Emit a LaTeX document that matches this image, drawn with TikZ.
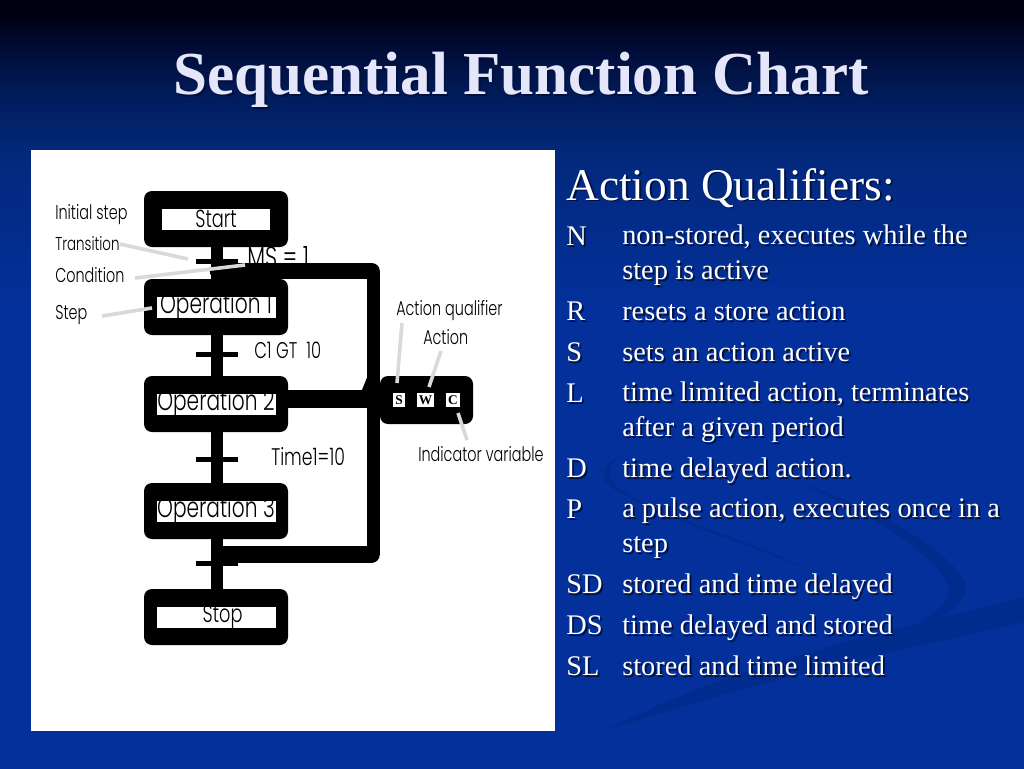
\documentclass[tikz,border=0pt]{standalone}
\usepackage{fontspec}
\setmainfont{Liberation Serif}
\newfontfamily\chartfont[FakeStretch=0.72]{Poppins Light}
\usepackage{tikz}
\usetikzlibrary{positioning}
\definecolor{bgTop}{HTML}{000010}
\definecolor{bgA}{HTML}{010C38}
\definecolor{bgB}{HTML}{011D5E}
\definecolor{bgC}{HTML}{03297C}
\definecolor{bgD}{HTML}{03309A}
\definecolor{swoosh}{HTML}{022B8E}
\definecolor{titleink}{HTML}{E6E6FA}
\definecolor{shadowink}{HTML}{00103F}
\definecolor{pointerink}{HTML}{D9D9D9}
\pgfdeclareverticalshading{slideshade}{100bp}{
    color(0bp)=(bgD);
    color(25bp)=(bgD);
    color(55bp)=(bgD);
    color(65bp)=(bgC);
    color(68.5bp)=(bgB);
    color(71.7bp)=(bgA);
    color(74bp)=(bgTop);
    color(100bp)=(bgTop)
}
\newcommand{\shadowed}[1]{\leavevmode\rlap{\kern1.4pt\raisebox{-1.4pt}{\textcolor{shadowink}{#1}}}#1}
\tikzset{
    stepbox/.style = {
        rectangle,
        rounded corners=6pt,
        fill=black,
        minimum width=108pt,
        minimum height=42pt,
        inner sep=0pt,
        outer sep=0pt,
        font=\chartfont\fontsize{21}{22}\selectfont,
        path picture={
            \fill[white, sharp corners] (path picture bounding box.center) ++(-#1,-10.5) rectangle ++(2*#1,21);
        },
    },
    stepbox/.default = 59.5,
    endbox/.style = {
        stepbox=#1,
        font=\chartfont\fontsize{18.5}{20}\selectfont,
    },
    actionbox/.style = {
        rectangle,
        rounded corners=6pt,
        fill=black,
        minimum width=69.75pt,
        minimum height=36pt,
        inner sep=0pt,
        outer sep=0pt,
    },
    tagbox/.style = {
        rectangle,
        fill=white,
        minimum height=10.5pt,
        inner sep=0pt,
        font=\bfseries\fontsize{10}{10}\selectfont,
    },
    chartlabel/.style = {
        anchor=west,
        inner sep=0pt,
        font=\chartfont\fontsize{15}{17}\selectfont,
    },
    keytext/.style = {
        anchor=base west,
        inner sep=0pt,
        text=white,
        font=\fontsize{21.3}{25.9}\selectfont,
    },
    desctext/.style = {
        keytext,
        align=left,
    },
    wire/.style = {
        draw=black,
        line width=9pt,
    },
    trans/.style = {
        draw=black,
        line width=3.75pt,
    },
    loopwire/.style = {
        draw=black,
        line width=12.5pt,
        line cap=round,
    },
    pointer/.style = {
        draw=pointerink,
        line width=2.7pt,
    },
}

\begin{document}
\begin{tikzpicture}[x=0.75pt,y=-0.75pt]
        \useasboundingbox (0,0) rectangle (1024,768);
        \shade[shading=slideshade] (0,0) rectangle (1024,768);
        % background ribbons
        \fill[swoosh] (1024,597) .. controls (900,630) and (740,660) .. (607,730)
            .. controls (760,680) and (900,650) .. (1024,622) -- cycle;
        \fill[swoosh] (800,483) .. controls (880,510) and (950,550) .. (965,583)
            .. controls (970,605) and (940,620) .. (905,630)
            .. controls (945,610) and (955,595) .. (945,580)
            .. controls (925,545) and (860,510) .. (800,483) -- cycle;
        \fill[swoosh] (640,447) .. controls (600,460) and (590,480) .. (625,495)
            .. controls (680,525) and (750,545) .. (810,570)
            .. controls (740,535) and (650,515) .. (615,485)
            .. controls (600,470) and (615,455) .. (640,447) -- cycle;
        \fill[white] (31,150) rectangle (555,731);

        \node(title) [anchor=base, text=titleink, inner sep=0pt,
            font=\bfseries\fontsize{45.8}{50}\selectfont] at (521,94.5)
        {\shadowed{Sequential Function Chart}};

        \node(start) [endbox=54] at (216,219)
        {Start};
        \node(opOne) [stepbox, below = 24pt of start]
        {Operation 1};
        \node(opTwo) [stepbox, below = 30.75pt of opOne]
        {Operation 2};
        \node(opThree) [stepbox, below = 38.25pt of opTwo]
        {Operation 3};
        \node(stop) [endbox=59.5, below = 37.5pt of opThree]
        {\hspace*{10pt}Stop};

        \node(action) [actionbox] at (426.5,400) {};
        \node(tagS) [tagbox, minimum width=9pt] at (399,400) {S};
        \node(tagW) [tagbox, minimum width=12.75pt] at (425.5,400) {W};
        \node(tagC) [tagbox, minimum width=10.5pt] at (453,400) {C};

        \node(lblMS) [chartlabel, font=\chartfont\fontsize{22}{24}\selectfont] at (247,257) {MS = 1};

        \coordinate (loopTop) at (218,271);
        \coordinate (loopTopEnd) at (371.5,271);
        \coordinate (loopBot) at (224,554.5);
        \coordinate (loopBotEnd) at (371.5,554.5);
        \coordinate (loopUp) at (373.5,271);
        \coordinate (loopDown) at (373.5,554.5);
        \coordinate (opTwoJoin) at (373.5,399);

        \draw [wire, transform canvas={xshift=1pt}] (start) -- (opOne);
        \draw [wire, transform canvas={xshift=1pt}] (opOne) -- (opTwo);
        \draw [wire, transform canvas={xshift=1pt}] (opTwo) -- (opThree);
        \draw [wire, transform canvas={xshift=1pt}] (opThree) -- (stop);

        \draw [loopwire] (loopTop) -- (loopTopEnd);
        \draw [loopwire] (loopBot) -- (loopBotEnd);
        \draw [wire, line width=9.75pt] (loopUp) -- (loopDown);
        \draw [wire, line width=13.5pt] (opTwo.east |- opTwoJoin) -- (opTwoJoin);
        \fill (362,390) -- (368,375) -- (368,390) -- cycle;

        \coordinate (barA) at (217,261.5);
        \coordinate (barB) at (217,354.5);
        \coordinate (barC) at (217,459.5);
        \coordinate (barD) at (217,563.5);
        \draw [trans] (196,261.5) -- (barA) -- (238,261.5);
        \draw [trans] (196,354.5) -- (barB) -- (238,354.5);
        \draw [trans] (196,459.5) -- (barC) -- (238,459.5);
        \draw [trans] (196,563.5) -- (barD) -- (238,563.5);

        \node(lblInitial) [chartlabel] at (55,215) {Initial step};
        \node(lblTrans) [chartlabel, font=\chartfont\fontsize{14}{16}\selectfont] at (55,244) {Transition};
        \node(lblCond) [chartlabel] at (55,275) {Condition};
        \node(lblStep) [chartlabel] at (55,315) {Step};
        \node(lblGT) [chartlabel, font=\chartfont\fontsize{17}{19}\selectfont] at (254,350) {C1 GT\ \ 10};
        \node(lblTime) [chartlabel, font=\chartfont\fontsize{18}{20}\selectfont] at (271,457) {Time1=10};
        \node(lblQual) [chartlabel] at (396,311) {Action qualifier};
        \node(lblAct) [chartlabel] at (423,337) {Action};
        \node(lblInd) [chartlabel] at (418,454) {Indicator variable};

        \coordinate (tipTrans) at (188,259);
        \coordinate (tipCond) at (245,265);
        \coordinate (tipStep) at (152,308);
        \coordinate (tipQual) at (397,383);
        \coordinate (tipAct) at (429,387);
        \coordinate (tipInd) at (458,413);
        \draw [pointer] (lblTrans.east) -- (tipTrans);
        \draw [pointer] (135,278) -- (tipCond);
        \draw [pointer] (102,316) -- (tipStep);
        \draw [pointer] (402,323) -- (tipQual);
        \draw [pointer] (441,351) -- (tipAct);
        \draw [pointer] (467,440) -- (tipInd);

        \node(heading) [keytext, font=\fontsize{34}{38}\selectfont] at (566,200)
        {\shadowed{Action Qualifiers:}};
        \node(keyN) [keytext] at (566,245.5) {\shadowed{N}};
        \node(descN) [desctext] at (622,279.5) {\shadowed{non-stored, executes while the}\\\shadowed{step is active}};
        \node(keyR) [keytext] at (566,320.5) {\shadowed{R}};
        \node(descR) [desctext] at (622,320.5) {\shadowed{resets a store action}};
        \node(keyS) [keytext] at (566,361.5) {\shadowed{S}};
        \node(descS) [desctext] at (622,361.5) {\shadowed{sets an action active}};
        \node(keyL) [keytext] at (566,402.5) {\shadowed{L}};
        \node(descL) [desctext] at (622,436.5) {\shadowed{time limited action, terminates}\\\shadowed{after a given period}};
        \node(keyD) [keytext] at (566,477.5) {\shadowed{D}};
        \node(descD) [desctext] at (622,477.5) {\shadowed{time delayed action.}};
        \node(keyP) [keytext] at (566,518.5) {\shadowed{P}};
        \node(descP) [desctext] at (622,552.5) {\shadowed{a pulse action, executes once in a}\\\shadowed{step}};
        \node(keySD) [keytext] at (566,593.5) {\shadowed{SD}};
        \node(descSD) [desctext] at (622,593.5) {\shadowed{stored and time delayed}};
        \node(keyDS) [keytext] at (566,634.5) {\shadowed{DS}};
        \node(descDS) [desctext] at (622,634.5) {\shadowed{time delayed and stored}};
        \node(keySL) [keytext] at (566,675.5) {\shadowed{SL}};
        \node(descSL) [desctext] at (622,675.5) {\shadowed{stored and time limited}};

    \end{tikzpicture}
\end{document}
